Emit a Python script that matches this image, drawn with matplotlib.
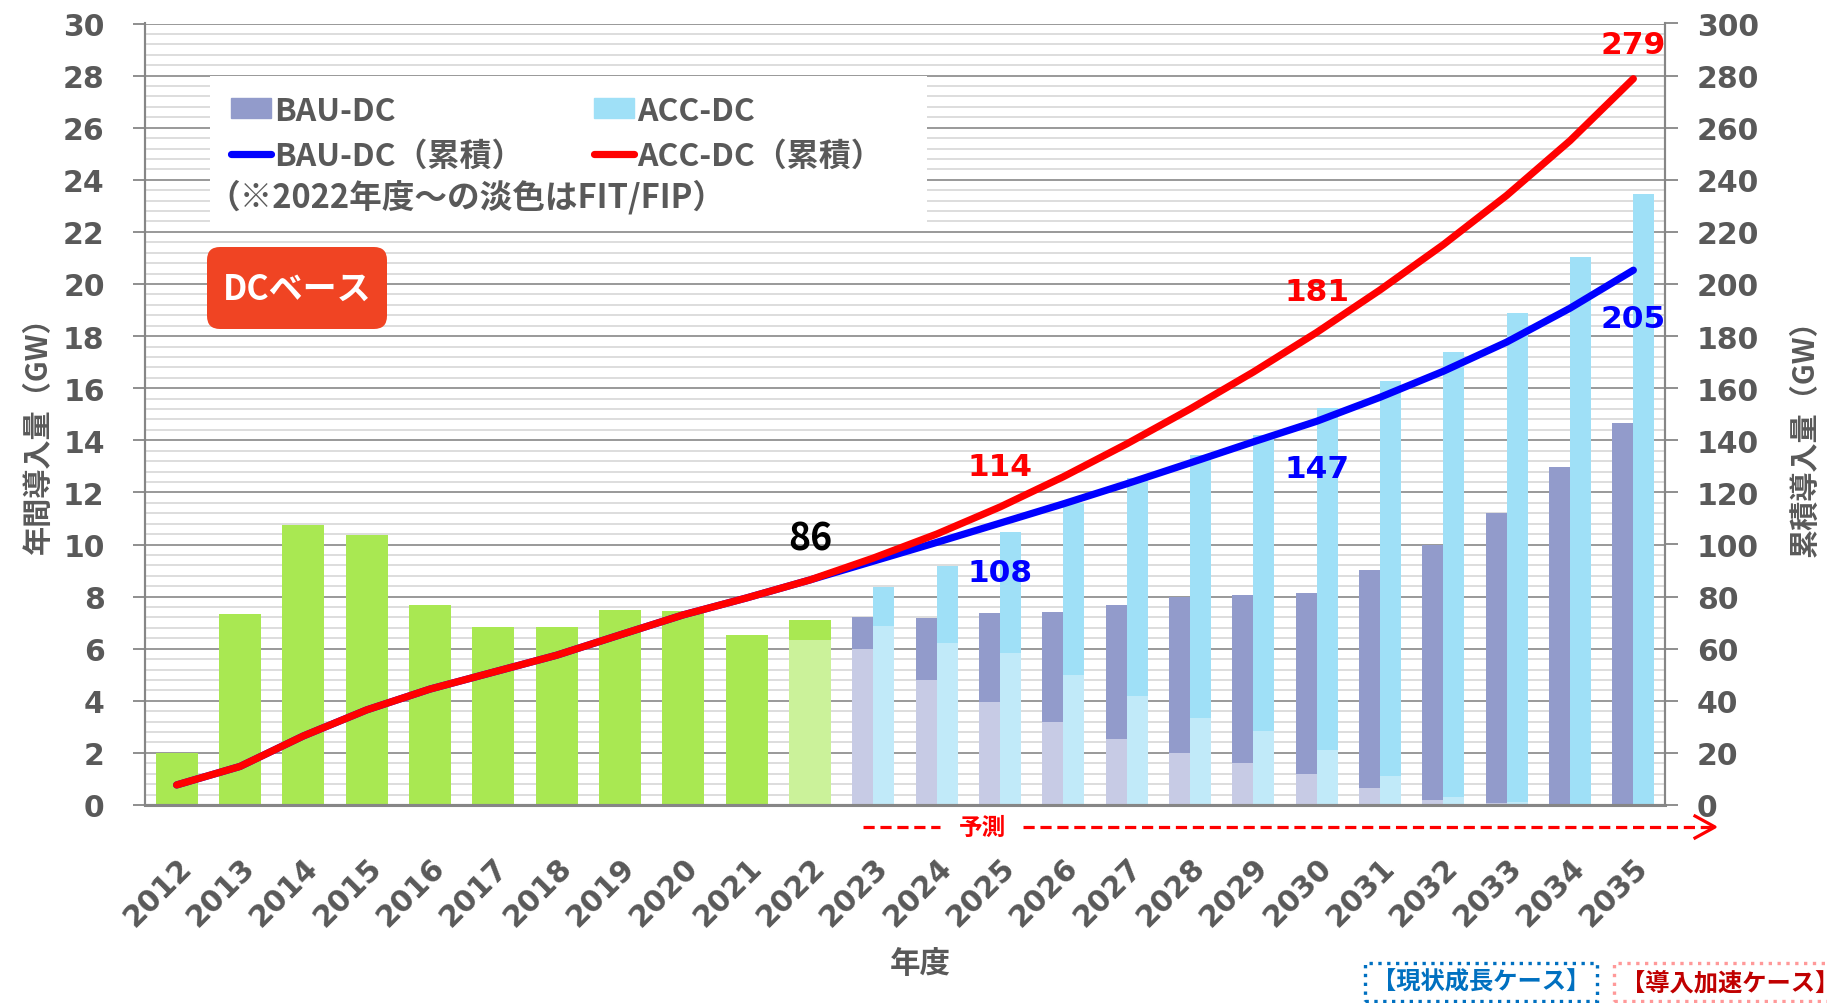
import numpy as np
import matplotlib
matplotlib.use("Agg")
import matplotlib.pyplot as plt
from matplotlib.patches import Patch, Rectangle, FancyBboxPatch
from matplotlib.lines import Line2D
from matplotlib.transforms import IdentityTransform

# ---- data ----
years = [str(y) for y in range(2012, 2036)]

# 2012-2022 annual installs (GW), single green bar; FIT/FIP share only shown for 2022
hist_total = np.array([1.99, 7.35, 10.73, 10.38, 7.69, 6.85, 6.85, 7.50, 7.46, 6.54, 7.12])
hist_fit = np.array([0, 0, 0, 0, 0, 0, 0, 0, 0, 0, 6.35])

# 2023-2035 forecasts, total and FIT/FIP part
bau_total = np.array([7.20, 7.19, 7.37, 7.41, 7.67, 8.00, 8.08, 8.13, 9.01, 9.97, 11.20, 12.98, 14.65])
bau_fit = np.array([5.98, 4.80, 3.95, 3.17, 2.55, 1.98, 1.62, 1.18, 0.64, 0.19, 0.06, 0, 0])
acc_total = np.array([8.38, 9.16, 10.47, 11.59, 12.55, 13.43, 14.20, 15.23, 16.27, 17.40, 18.90, 21.02, 23.46])
acc_fit = np.array([6.86, 6.21, 5.82, 5.00, 4.20, 3.35, 2.85, 2.10, 1.12, 0.31, 0.10, 0, 0])

# cumulative (GW, right axis)
cum_hist = [7.7, 14.8, 26.5, 36.5, 44.5, 51.0, 57.5, 65.3, 73.0, 79.5, 86.4]
bau_cum = [93.6, 100.8, 108.2, 115.6, 123.3, 131.3, 139.4, 147.3, 156.5, 166.5, 177.7, 190.7, 205.3]
acc_cum = [94.8, 104.0, 114.4, 126.0, 138.6, 152.0, 166.2, 181.4, 197.7, 215.1, 234.0, 255.0, 278.8]

# ---- styles ----
JP = ["Noto Sans CJK JP", "DejaVu Sans"]
GRAY = "#595959"
AXC = "#868686"
GREEN, LGREEN = "#A9E852", "#CBF29A"
BAU_D, BAU_L = "#929BCB", "#C7CBE5"
ACC_D, ACC_L = "#9FE0F7", "#C1EAF9"
BLUE, RED = "#0000FF", "#FF0000"

W, H = 1827, 1004
fig = plt.figure(figsize=(W / 100, H / 100), dpi=100)
ax = fig.add_axes([145 / W, 1 - 806 / H, 1520 / W, 781.5 / H])
ax2 = ax.twinx()

x = np.arange(len(years))
nh = len(hist_total)
xh, xf = x[:nh], x[nh:]

bw = 0.66
ax.bar(xh, hist_fit, bw, color=LGREEN, zorder=2)
ax.bar(xh, hist_total - hist_fit, bw, bottom=hist_fit, color=GREEN, zorder=2)
hb = bw / 2
ax.bar(xf - hb / 2, bau_fit, hb, color=BAU_L, zorder=2)
ax.bar(xf - hb / 2, bau_total - bau_fit, hb, bottom=bau_fit, color=BAU_D, zorder=2)
ax.bar(xf + hb / 2, acc_fit, hb, color=ACC_L, zorder=2)
ax.bar(xf + hb / 2, acc_total - acc_fit, hb, bottom=acc_fit, color=ACC_D, zorder=2)

# lines
LW = 5.2
bau_line = cum_hist + bau_cum
acc_line = cum_hist + acc_cum
ax2.plot(x, bau_line, color=BLUE, lw=LW, solid_capstyle="round", solid_joinstyle="round", zorder=3)
ax2.plot(x, acc_line, color=RED, lw=LW, solid_capstyle="round", solid_joinstyle="round", zorder=4)

# axes setup
ax.set_xlim(-0.5, len(years) - 0.5)
ax.set_ylim(0, 30)
ax2.set_ylim(0, 300)

ax.set_yticks(np.arange(0, 31, 2), [str(v) for v in range(0, 31, 2)],
              fontsize=21.5, fontweight="bold", color=GRAY)
minor = [v for v in np.round(np.arange(0, 30.01, 0.4), 1) if v % 2 != 0]
ax.set_yticks(minor, minor=True)
ax.grid(which="minor", axis="y", color="#DADADA", lw=1.3, zorder=0)
ax.grid(which="major", axis="y", color="#888888", lw=1.2, zorder=1)
ax.set_axisbelow(True)
ax.tick_params(axis="y", which="minor", length=0)
ax.tick_params(axis="y", which="major", direction="out", length=9, width=1.3,
               color=AXC, pad=20)

ax.set_xticks(x, years, rotation=45, ha="right", rotation_mode="anchor",
              fontsize=21.5, fontweight="bold", color=GRAY)
ax.tick_params(axis="x", length=0, pad=34)

ax2.set_yticks(np.arange(0, 301, 20), [str(v) for v in range(0, 301, 20)],
               fontsize=21.5, fontweight="bold", color=GRAY)
ax2.tick_params(axis="y", direction="out", length=9, width=1.3, color=AXC, pad=14)

for a in (ax, ax2):
    a.spines["top"].set_visible(False)
    for s in ("left", "right", "bottom"):
        a.spines[s].set_color(AXC)
        a.spines[s].set_linewidth(1.5)
ax.spines["bottom"].set_linewidth(2.2)

# value labels
lab = dict(fontsize=22.5, fontweight="bold", ha="center", va="center", zorder=6)
ax2.text(10, cum_hist[-1] + 16, f"{round(cum_hist[-1])}", color="black",
         family=JP, fontsize=27, fontweight="bold", ha="center", va="center")
ax2.text(13, acc_cum[2] + 15.6, f"{round(acc_cum[2])}", color=RED, **lab)
ax2.text(13, bau_cum[2] - 18.8, f"{round(bau_cum[2])}", color=BLUE, **lab)
ax2.text(18, acc_cum[7] + 15.6, f"{round(acc_cum[7])}", color=RED, **lab)
ax2.text(18, bau_cum[7] - 18.3, f"{round(bau_cum[7])}", color=BLUE, **lab)
ax2.text(23, bau_cum[12] - 18.6, f"{round(bau_cum[12])}", color=BLUE, **lab)
ax2.text(23, acc_cum[12] + 13, f"{round(acc_cum[12])}", color=RED, **lab)

# legend
ax2.add_patch(Rectangle((0.0428, 0.746), 0.4717, 0.187, transform=ax2.transAxes,
                        fc="white", ec="none", zorder=5))
handles = [Patch(color=BAU_D), Line2D([], [], color=BLUE, lw=LW, solid_capstyle="round"),
           Patch(color=ACC_D), Line2D([], [], color=RED, lw=LW, solid_capstyle="round")]
labels = ["BAU-DC", "BAU-DC（累積）", "ACC-DC", "ACC-DC（累積）"]
leg = ax2.legend(handles, labels, ncol=2, loc="upper left", bbox_to_anchor=(0.0566, 0.909),
                 frameon=False, borderpad=0, borderaxespad=0, handlelength=1.25,
                 handleheight=0.6, handletextpad=0.1, columnspacing=2.2, labelspacing=0.4,
                 prop=dict(family=JP, weight="bold", size=23), labelcolor=GRAY)
leg.set_zorder(7)
ax2.text((207 - 145) / 1520, (806 - 197) / 781.5, "（※2022年度～の淡色はFIT/FIP）",
         transform=ax2.transAxes, family=JP, fontsize=23.5, fontweight="bold",
         color=GRAY, ha="left", va="center", zorder=7)

# DC base badge
fig.add_artist(FancyBboxPatch((207, H - 330), 180, 82, boxstyle="round,pad=0,rounding_size=13",
                              transform=IdentityTransform(), fc="#F04423", ec="none"))
fig.text(297 / W, 1 - 289 / H, "DCベース", family=JP, fontsize=24.5, fontweight="bold",
         color="white", ha="center", va="center")

# axis titles
fig.text(38 / W, 1 - 428 / H, "年間導入量（GW）", family=JP, fontsize=21, fontweight="bold",
         color=GRAY, rotation=90, ha="center", va="center")
fig.text(1805 / W, 1 - 431 / H, "累積導入量（GW）", family=JP, fontsize=21, fontweight="bold",
         color=GRAY, rotation=90, ha="center", va="center")
fig.text(920 / W, 1 - 964 / H, "年度", family=JP, fontsize=22, fontweight="bold",
         color=GRAY, ha="center", va="center")

# forecast arrow
ya = 1 - 828 / H
fig.add_artist(Line2D([863 / W, 940 / W], [ya, ya], color=RED, lw=2.3, ls=(0, (3.5, 1.8))))
fig.add_artist(Line2D([1023 / W, 1713 / W], [ya, ya], color=RED, lw=2.3, ls=(0, (3.5, 1.8))))
fig.add_artist(Line2D([1695 / W, 1715 / W, 1695 / W], [1 - 817 / H, ya, 1 - 839 / H],
                      color=RED, lw=2.3))
fig.text(982 / W, ya, "予測", family=JP, fontsize=17, fontweight="bold", color=RED,
         ha="center", va="center")

# case boxes (the right one runs off the edge, as in the original slide)
fig.text(1372 / W, 1 - 983 / H, "【現状成長ケース】", family=JP, fontsize=17.5, fontweight="bold",
         color="#0070C0", ha="left", va="center",
         bbox=dict(boxstyle="square,pad=0.28", fc="white", ec="#0070C0", ls=":", lw=2.4))
fig.text(1621 / W, 1 - 983 / H, "【導入加速ケース】", family=JP, fontsize=17.5, fontweight="bold",
         color="#C00000", ha="left", va="center",
         bbox=dict(boxstyle="square,pad=0.28", fc="white", ec="#FF9999", ls=":", lw=2.4))

fig.savefig("out.png", dpi=100)
